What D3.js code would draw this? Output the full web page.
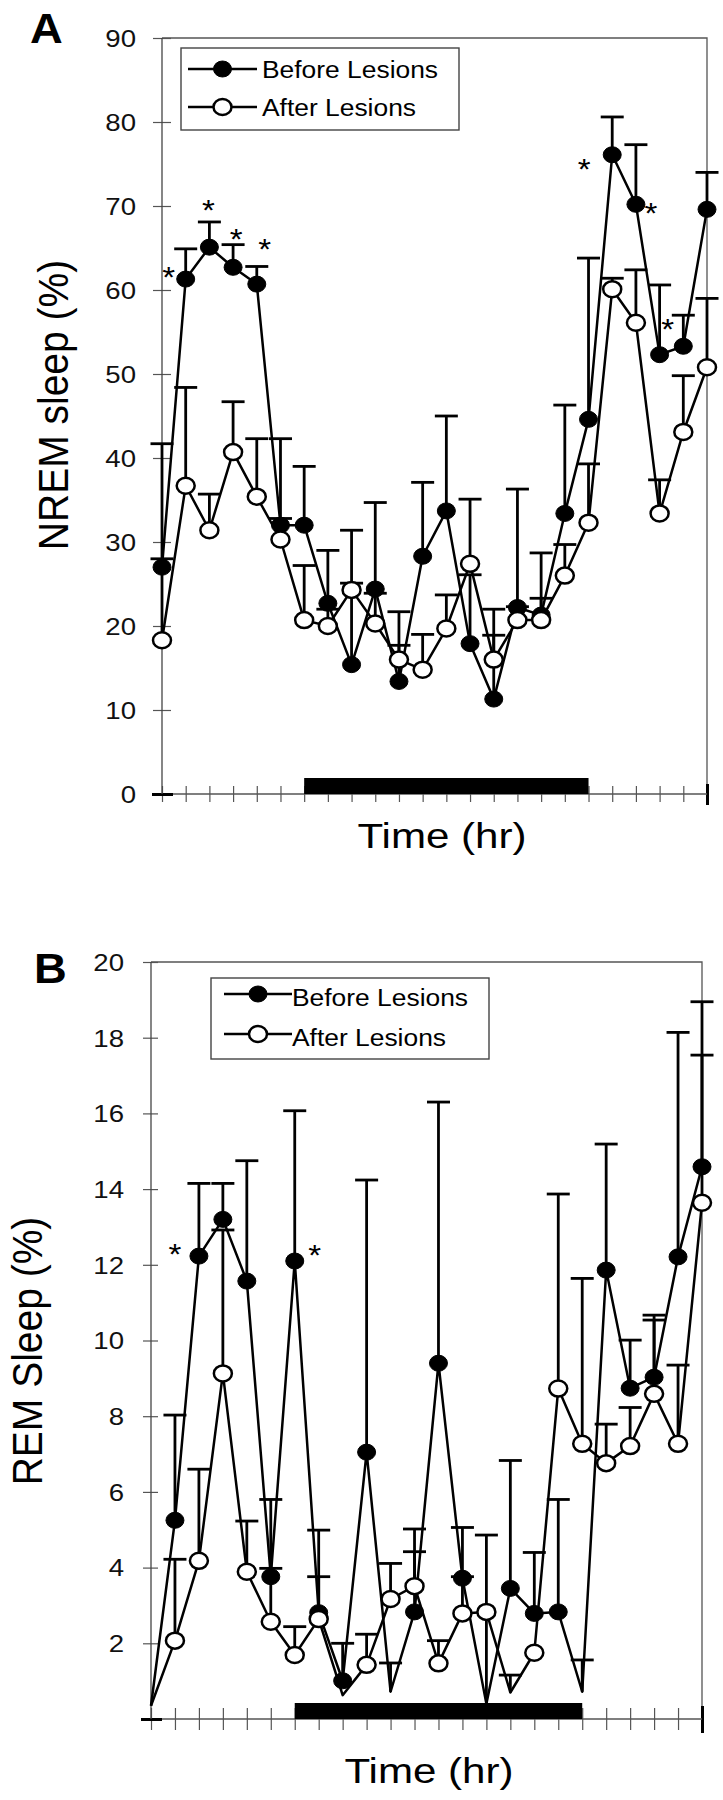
<!DOCTYPE html>
<html><head><meta charset="utf-8">
<script src="https://cdn.jsdelivr.net/npm/d3@7"></script>
<style>body{margin:0;background:#fff}svg{display:block}</style>
</head><body>
<svg id="c" width="723" height="1800"></svg>
<script>
// ---------- data ----------
const hours = [0,1,2,3,4,5,6,7,8,9,10,11,12,13,14,15,16,17,18,19,20,21,22,23];
const darkPeriod = [6, 18];
const seriesNames = ["Before Lesions", "After Lesions"];

// Panel A: NREM sleep (%)
const nremTicks = [0,10,20,30,40,50,60,70,80,90];
const nremBefore    = [27.0,61.3,65.1,62.7,60.7,32.0,32.0,22.7,15.4,24.4,13.4,28.3,33.7,17.9,11.3,22.2,21.3,33.4,44.6,76.1,70.2,52.3,53.3,69.6];
const nremBeforeTop = [28.0,64.9,68.1,65.4,62.8,32.8,39.0,29.0,31.4,34.7,17.7,37.1,45.0,26.1,18.9,36.3,28.7,46.3,63.8,80.6,77.3,60.6,57.0,74.0];
const nremAfter     = [18.3,36.7,31.4,40.7,35.4,30.3,20.7,20.0,24.3,20.3,16.0,14.8,19.7,27.4,16.0,20.7,20.7,26.0,32.3,60.1,56.1,33.4,43.1,50.8];
const nremAfterTop  = [41.7,48.4,35.7,46.7,42.3,42.3,27.2,22.0,25.1,23.9,21.7,19.0,23.7,35.1,22.0,22.3,23.3,29.7,39.3,61.4,62.4,37.4,49.8,59.0];
const nremStars = [1,2,3,4,19,20,21];

// Panel B: REM sleep (%)
const remTicks = [0,2,4,6,8,10,12,14,16,18,20];
const remBefore    = [0.35,5.25,12.23,13.2,11.57,3.76,12.1,2.81,1.01,7.05,0.72,2.83,9.4,3.72,0.4,3.45,2.79,2.83,0.72,11.86,8.74,9.03,12.21,14.59];
const remBeforeTop = [null,8.03,14.15,14.15,14.75,3.98,16.07,3.76,2.0,14.24,1.48,4.42,16.3,5.06,4.86,6.83,4.4,5.8,1.56,15.19,10.01,10.67,18.14,18.95];
const remAfter     = [0.35,2.07,4.18,9.13,3.89,2.57,1.69,2.64,0.63,1.43,3.17,3.51,1.47,2.79,2.83,0.7,1.75,8.73,7.27,6.76,7.21,8.59,7.27,13.64];
const remAfterTop  = [null,4.22,6.6,12.92,5.23,5.8,2.44,4.99,null,2.24,4.11,5.02,2.07,3.76,null,1.16,null,13.87,11.64,7.79,8.23,10.54,9.35,17.54];
const remBeforeNoMarker = [0,10,14,18];
const remAfterNoMarker  = [0,8,15];
const remStars = [2,6];

// ---------- drawing ----------
const FONT = "'Liberation Sans', Arial, Helvetica, sans-serif";
const svg = d3.select('#c');
svg.append('rect').attr('width',723).attr('height',1800).attr('fill','#fff');

function stext(g, s, x, y, size, o = {}) {
  const sx = o.sx ?? 1.12;
  return g.append('text')
    .attr('transform', `translate(${x},${y}) scale(${sx},1)` + (o.rotate ? ` rotate(${o.rotate})` : ''))
    .attr('font-family', FONT).attr('font-size', size)
    .attr('font-weight', o.bold ? 'bold' : 'normal')
    .attr('text-anchor', o.anchor || 'start').attr('fill', '#000').text(s);
}

function panel(cfg) {
  const g = svg.append('g');
  const x = d3.scaleLinear().domain([0, 23]).range([cfg.x0, cfg.x1]);
  const y = d3.scaleLinear().domain([0, cfg.ticks[cfg.ticks.length-1]]).range([cfg.yBot, cfg.yTop]);

  // frame (top + right)
  g.append('path').attr('d', `M${cfg.x0},${cfg.yTop}H${cfg.x1}V${cfg.yBot}`)
    .attr('fill','none').attr('stroke','#555').attr('stroke-width',1.3);

  // x axis
  const xa = g.append('g').attr('transform', `translate(0,${cfg.yBot})`)
    .call(d3.axisBottom(x).tickValues(hours).tickSize(0).tickFormat(''));
  xa.select('.domain').remove();
  xa.append('line').attr('x1', cfg.x0).attr('x2', cfg.x1).attr('stroke', '#555').attr('stroke-width', 1.3);
  xa.selectAll('.tick line').attr('y1', -cfg.xt).attr('y2', cfg.xt).attr('stroke', '#555').attr('stroke-width', 1.2);
  xa.selectAll('.tick line').filter(d => d === 23).attr('y1', -cfg.xt - 2).attr('y2', cfg.xt + 3)
    .attr('stroke', '#000').attr('stroke-width', 3);

  // dark period bar
  g.append('rect').attr('x', x(darkPeriod[0])).attr('width', x(darkPeriod[1]) - x(darkPeriod[0]))
    .attr('y', cfg.yBot - cfg.barH).attr('height', cfg.barH).attr('fill', '#000');

  // y axis
  const ya = g.append('g').attr('transform', `translate(${cfg.x0},0)`)
    .call(d3.axisLeft(y).tickValues(cfg.ticks).tickSize(0)
      .tickFormat(d => (d === 0 && cfg.hideZero) ? '' : d));
  ya.attr('font-family', FONT).attr('font-size', 23);
  ya.select('.domain').remove();
  ya.append('line').attr('y1', cfg.yTop).attr('y2', cfg.yBot).attr('stroke', '#444').attr('stroke-width', 1.3);
  ya.selectAll('.tick line').attr('x1', -cfg.ytl).attr('x2', cfg.ytr).attr('stroke', '#555').attr('stroke-width', 1.2);
  ya.selectAll('.tick line').filter(d => d === 0).attr('x1', -10).attr('x2', 11)
    .attr('stroke', '#000').attr('stroke-width', 3);
  ya.selectAll('.tick text').attr('x', 0).attr('dy', null).attr('fill', '#111')
    .attr('transform', `translate(${cfg.labelEnd - cfg.x0},8.3) scale(1.2,1)`);

  // series
  const defs = [
    {vals: cfg.before, top: cfg.beforeTop, filled: true, skip: cfg.beforeSkip || []},
    {vals: cfg.after, top: cfg.afterTop, filled: false, skip: cfg.afterSkip || []}
  ];
  const line = d3.line().x((d, i) => x(hours[i])).y(d => y(d));
  defs.forEach(s => {
    g.append('path').attr('d', line(s.vals)).attr('fill', 'none').attr('stroke', '#000')
      .attr('stroke-width', 2.5).attr('stroke-linejoin', 'round');
    const eb = g.append('g').attr('stroke', '#000').attr('stroke-width', 2.8);
    s.vals.forEach((v, i) => {
      const t = s.top[i];
      if (t == null || t <= v) return;
      eb.append('line').attr('x1', x(hours[i])).attr('x2', x(hours[i])).attr('y1', y(v)).attr('y2', y(t));
      eb.append('line').attr('x1', x(hours[i]) - 11.5).attr('x2', x(hours[i]) + 11.5).attr('y1', y(t)).attr('y2', y(t));
    });
    g.append('g').selectAll('ellipse').data(s.vals.map((v, i) => ({v, i})).filter(d => !s.skip.includes(d.i)))
      .join('ellipse').attr('cx', d => x(hours[d.i])).attr('cy', d => y(d.v)).attr('rx', 9).attr('ry', 8)
      .attr('fill', s.filled ? '#000' : '#fff').attr('stroke', '#000').attr('stroke-width', s.filled ? 1 : 2.5);
  });

  // significance stars (placed next to the "before" points)
  cfg.stars.forEach((idx, k) => {
    const [dx, dy] = cfg.starOff[k];
    stext(g, '*', x(hours[idx]) + dx, y(cfg.before[idx]) + dy + 17, 30, {anchor: 'middle', sx: 1.1});
  });

  // legend
  const L = cfg.legend;
  g.append('rect').attr('x', L.x).attr('y', L.y).attr('width', L.w).attr('height', L.h)
    .attr('fill', '#fff').attr('stroke', '#444').attr('stroke-width', 1.4);
  seriesNames.forEach((name, k) => {
    const ry = L.rows[k];
    g.append('line').attr('x1', L.lx0).attr('x2', L.lx1).attr('y1', ry).attr('y2', ry).attr('stroke', '#000').attr('stroke-width', 2.5);
    g.append('ellipse').attr('cx', (L.lx0 + L.lx1) / 2).attr('cy', ry).attr('rx', 9).attr('ry', 8)
      .attr('fill', k === 0 ? '#000' : '#fff').attr('stroke', '#000').attr('stroke-width', k === 0 ? 1 : 2.5);
    stext(g, name, L.tx, ry + L.base, 24, {sx: 1.1});
  });

  // titles
  stext(g, cfg.letter, cfg.letterX, cfg.letterY, 42, {bold: true, sx: 1.08});
  stext(g, cfg.ylabel, cfg.ylabX, cfg.ylabY, 39, {anchor: 'middle', rotate: -90, sx: 1.1});
  stext(g, 'Time (hr)', cfg.tlabX, cfg.tlabY, 36, {anchor: 'middle', sx: 1.17});
}

panel({
  x0: 162, x1: 707, yTop: 38, yBot: 794, barH: 16, xt: 8, ytl: 9, ytr: 9, labelEnd: 136,
  ticks: nremTicks, hideZero: false,
  before: nremBefore, beforeTop: nremBeforeTop, after: nremAfter, afterTop: nremAfterTop,
  stars: nremStars, starOff: [[-17,-9],[-1,-44],[3,-35],[8,-42],[-28,7],[15,2],[8,-33]],
  legend: {x: 181, y: 48, w: 278, h: 82, rows: [69, 107], lx0: 188, lx1: 257, tx: 262, base: 8.5},
  letter: 'A', letterX: 30, letterY: 43,
  ylabel: 'NREM sleep (%)', ylabX: 68, ylabY: 405,
  tlabX: 442, tlabY: 848
});

panel({
  x0: 151, x1: 702, yTop: 962, yBot: 1719, barH: 16, xt: 11, ytl: 8, ytr: 7, labelEnd: 124,
  ticks: remTicks, hideZero: true,
  before: remBefore, beforeTop: remBeforeTop, after: remAfter, afterTop: remAfterTop,
  beforeSkip: remBeforeNoMarker, afterSkip: remAfterNoMarker,
  stars: remStars, starOff: [[-24,-9],[20,-13]],
  legend: {x: 211, y: 978, w: 278, h: 81, rows: [994, 1034], lx0: 224, lx1: 292, tx: 292, base: 11.5},
  letter: 'B', letterX: 34, letterY: 983,
  ylabel: 'REM Sleep (%)', ylabX: 42, ylabY: 1351,
  tlabX: 429, tlabY: 1783
});
</script>
</body></html>
